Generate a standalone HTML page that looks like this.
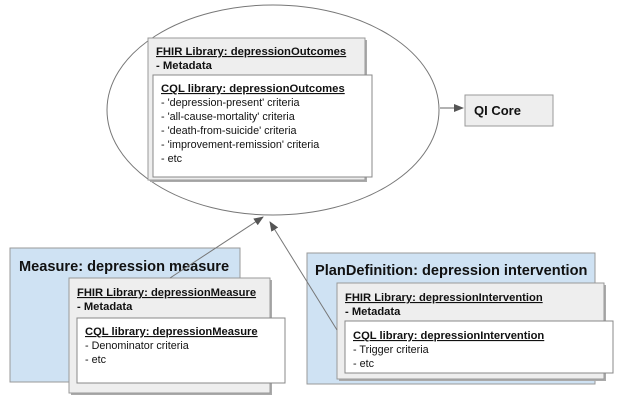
<!DOCTYPE html>
<html><head><style>body{margin:0;background:#fff}svg{display:block}text{font-family:"Liberation Sans",Arial,sans-serif;fill:#111}</style></head><body>
<svg width="621" height="405" viewBox="0 0 621 405" xmlns="http://www.w3.org/2000/svg">
<defs><marker id="a" markerWidth="10" markerHeight="8" refX="9" refY="4" orient="auto" markerUnits="userSpaceOnUse"><path d="M0,0 L10,4 L0,8 z" fill="#555"/></marker></defs>
<ellipse cx="273" cy="110" rx="166" ry="105" fill="#fff" stroke="#777" stroke-width="1"/>
<!-- outcomes -->
<rect x="150" y="40" width="217" height="142" fill="#aaa"/>
<rect x="148" y="38" width="217" height="142" fill="#eee" stroke="#999"/>
<text x="156" y="55" font-size="11.3" font-weight="bold" text-decoration="underline">FHIR Library: depressionOutcomes</text>
<text x="156" y="69" font-size="11.3" font-weight="bold">- Metadata</text>
<rect x="153" y="75" width="219" height="102" fill="#fff" stroke="#888"/>
<text x="161" y="92" font-size="11.3" font-weight="bold" text-decoration="underline">CQL library: depressionOutcomes</text>
<text x="161" y="106" font-size="10.8">- 'depression-present' criteria</text>
<text x="161" y="120" font-size="10.8">- 'all-cause-mortality' criteria</text>
<text x="161" y="134" font-size="10.8">- 'death-from-suicide' criteria</text>
<text x="161" y="148" font-size="10.8">- 'improvement-remission' criteria</text>
<text x="161" y="162" font-size="10.8">- etc</text>
<!-- QI Core -->
<line x1="440" y1="108" x2="463" y2="108" stroke="#666" marker-end="url(#a)"/>
<rect x="465" y="95" width="88" height="31" fill="#eee" stroke="#999"/>
<text x="474" y="115" font-size="13" font-weight="bold">QI Core</text>
<!-- Measure -->
<rect x="10" y="248" width="230" height="134" fill="#cfe2f3" stroke="#999"/>
<text x="19" y="271" font-size="14.6" font-weight="bold">Measure: depression measure</text>
<rect x="71" y="280" width="201" height="115" fill="#aaa"/>
<rect x="69" y="278" width="201" height="115" fill="#eee" stroke="#999"/>
<text x="77" y="296" font-size="11.2" font-weight="bold" text-decoration="underline">FHIR Library: depressionMeasure</text>
<text x="77" y="310" font-size="11.2" font-weight="bold">- Metadata</text>
<rect x="77" y="318" width="208" height="65" fill="#fff" stroke="#888"/>
<text x="85" y="335" font-size="11.2" font-weight="bold" text-decoration="underline">CQL library: depressionMeasure</text>
<text x="85" y="349" font-size="10.8">- Denominator criteria</text>
<text x="85" y="363" font-size="10.8">- etc</text>
<!-- PlanDefinition -->
<rect x="307" y="253" width="288" height="131" fill="#cfe2f3" stroke="#999"/>
<text x="315" y="275" font-size="14.6" font-weight="bold">PlanDefinition: depression intervention</text>
<rect x="339" y="285" width="267" height="96" fill="#aaa"/>
<rect x="337" y="283" width="267" height="96" fill="#eee" stroke="#999"/>
<text x="345" y="301" font-size="11.2" font-weight="bold" text-decoration="underline">FHIR Library: depressionIntervention</text>
<text x="345" y="315" font-size="11.2" font-weight="bold">- Metadata</text>
<rect x="345" y="321" width="268" height="52" fill="#fff" stroke="#888"/>
<text x="353" y="339" font-size="11.2" font-weight="bold" text-decoration="underline">CQL library: depressionIntervention</text>
<text x="353" y="353" font-size="10.8">- Trigger criteria</text>
<text x="353" y="367" font-size="10.8">- etc</text>
<!-- arrows -->
<line x1="170" y1="278" x2="263" y2="217" stroke="#777" marker-end="url(#a)"/>
<line x1="337" y1="330" x2="270" y2="222" stroke="#777" marker-end="url(#a)"/>
</svg>
</body></html>
